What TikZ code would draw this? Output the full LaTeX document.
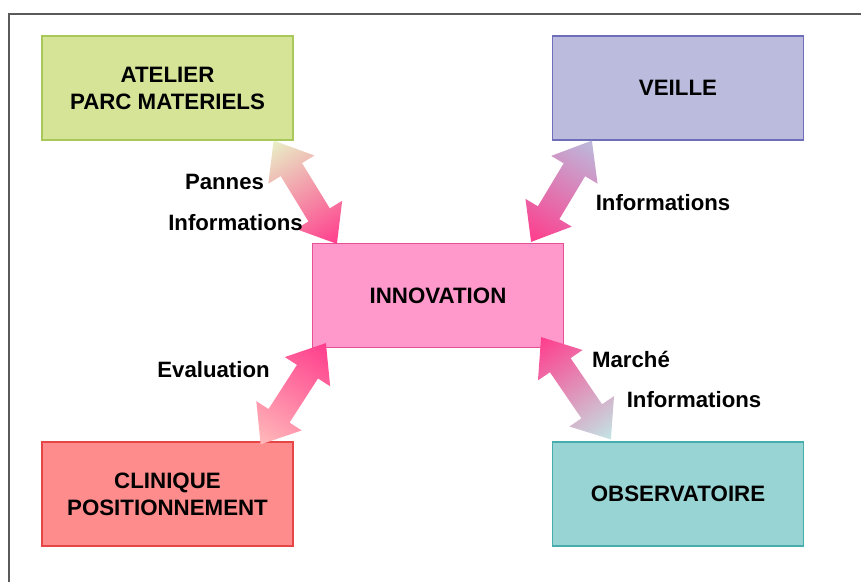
\documentclass[tikz,border=0pt]{standalone}
\usepackage{fontspec}
\setmainfont{Liberation Sans}
\usetikzlibrary{calc}

\definecolor{atelierfill}{RGB}{214,228,152}
\definecolor{atelierline}{RGB}{168,200,90}
\definecolor{veillefill}{RGB}{187,187,221}
\definecolor{veilleline}{RGB}{110,110,185}
\definecolor{innovfill}{RGB}{255,153,204}
\definecolor{innovline}{RGB}{232,80,150}
\definecolor{cliniquefill}{RGB}{255,140,140}
\definecolor{cliniqueline}{RGB}{230,70,70}
\definecolor{observfill}{RGB}{153,212,212}
\definecolor{observline}{RGB}{70,172,172}
\definecolor{hotpink}{RGB}{255,60,140}
\definecolor{framegray}{RGB}{90,90,90}

% double block arrow from #1 to #2, shaded #3 -> #4
\newcommand{\flowarrow}[4]{%
 \path let \p1=#1, \p2=#2, \n1={atan2(\y2-\y1,\x2-\x1)}, \n2={veclen(\x2-\x1,\y2-\y1)} in
   \pgfextra{\xdef\arrang{\n1}\xdef\arrlen{\n2}\xdef\arrx{\x1}\xdef\arry{\y1}};
 \begin{scope}[transform canvas={shift={(\arrx,\arry)},rotate=\arrang}]
  \shade [left color=#3, right color=#4] (0bp,0bp) -- (34bp,27bp) -- (34bp,12.5bp)
     -- ({\arrlen-34bp},12.5bp) -- ({\arrlen-34bp},27bp) -- ({\arrlen},0bp)
     -- ({\arrlen-34bp},-27bp) -- ({\arrlen-34bp},-12.5bp) -- (34bp,-12.5bp)
     -- (34bp,-27bp) -- cycle;
 \end{scope}}

\begin{document}
\begin{tikzpicture}[x=1bp, y=-1bp,
  box/.style={draw, line width=1.2bp, minimum width=251bp, minimum height=104bp,
    align=center, font=\fontsize{22.3bp}{27bp}\selectfont\bfseries},
  lbl/.style={font=\fontsize{22.2bp}{26bp}\selectfont\bfseries}]

\useasboundingbox (0,0) rectangle (861,582);

% frame
\draw [framegray, line width=2.5bp] (9,582) -- (9,14) -- (861,14);

% boxes
\node [box, fill=atelierfill, draw=atelierline] (atelier) at (167.5,88) {ATELIER\\PARC MATERIELS};
\node [box, fill=veillefill, draw=veilleline] (veille) at (678,88) {VEILLE};
\node [box, fill=innovfill, draw=innovline] (innov) at (438,295.5) {INNOVATION};
\node [box, fill=cliniquefill, draw=cliniqueline] (clinique) at (167.5,494) {CLINIQUE\\POSITIONNEMENT};
\node [box, fill=observfill, draw=observline] (observ) at (678,494) {OBSERVATOIRE};

% arrows
\flowarrow{($(atelier.south east)+(-20,0)$)}{($(innov.north west)+(25,1)$)}{atelierfill!55!white}{hotpink}
\flowarrow{($(veille.south west)+(40,0)$)}{($(innov.north east)+(-33,-1)$)}{veillefill}{hotpink}
\flowarrow{($(innov.south west)+(14,-5)$)}{($(clinique.north east)+(-33,3)$)}{hotpink}{cliniquefill!60!white}
\flowarrow{($(innov.south east)+(-23,-11)$)}{($(observ.north west)+(59,-2)$)}{hotpink}{observfill!60!white}

% labels
\node [lbl] (pannes) at (224.5,182) {Pannes};
\node [lbl] (infoA) at (235.5,222.5) {Informations};
\node [lbl] (infoB) at (663,203) {Informations};
\node [lbl] (evaluation) at (213.5,369.5) {Evaluation};
\node [lbl] (marche) at (631,359) {Marché};
\node [lbl] (infoC) at (694,400) {Informations};

\end{tikzpicture}
\end{document}
